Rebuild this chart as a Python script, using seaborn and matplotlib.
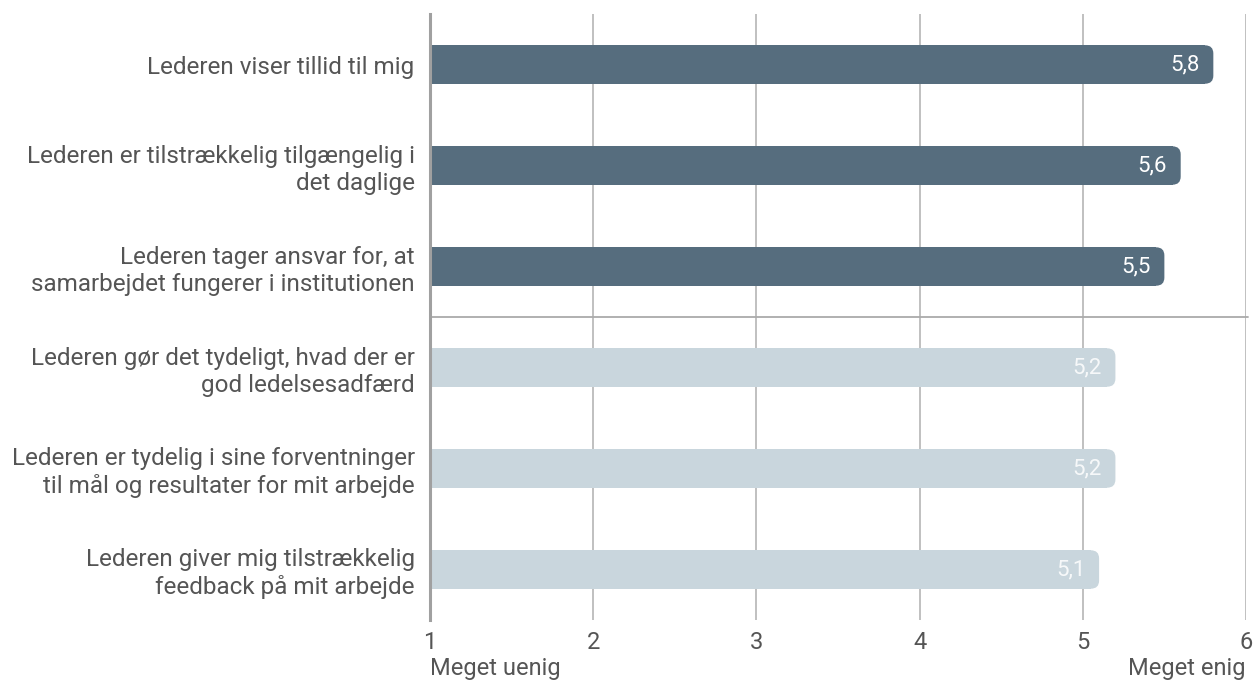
import pandas as pd
import matplotlib.pyplot as plt
import seaborn as sns
from matplotlib.patches import FancyBboxPatch

# data
questions = [
    "Lederen viser tillid til mig",
    "Lederen er tilstrækkelig tilgængelig i\ndet daglige",
    "Lederen tager ansvar for, at\nsamarbejdet fungerer i institutionen",
    "Lederen gør det tydeligt, hvad der er\ngod ledelsesadfærd",
    "Lederen er tydelig i sine forventninger\ntil mål og resultater for mit arbejde",
    "Lederen giver mig tilstrækkelig\nfeedback på mit arbejde",
]
scores = [5.8, 5.6, 5.5, 5.2, 5.2, 5.1]
groups = ["top", "top", "top", "rest", "rest", "rest"]
x_ticks = [1, 2, 3, 4, 5, 6]
x_end_labels = ["Meget uenig", "Meget enig"]

df = pd.DataFrame({"question": questions, "score": scores, "group": groups})

sns.set_theme(style="white")
plt.rcParams["font.family"] = ["Roboto", "DejaVu Sans"]

dark = "#566d7e"
light = "#c9d6dd"
palette = {"top": dark, "rest": light}
text_col = "#555555"

fig = plt.figure(figsize=(12.54, 6.81), dpi=100)
ax = fig.add_axes([0.3429, 0.0896, 0.9936 - 0.3429, 0.9794 - 0.0896])

bar_h = 0.38
r = 0.05  # corner radius in x units
sns.barplot(data=df, y="question", x="score", hue="group", palette=palette,
            dodge=False, legend=False, width=bar_h, orient="h", ax=ax,
            saturation=1, errorbar=None)

ax.set_xlim(1, 6)
ax.set_ylim(5.5, -0.5)

# rounded right ends: shorten the square bars and overlay rounded boxes
aspect = (ax.bbox.width / 5) / (ax.bbox.height / 6)
for patch in list(ax.patches):
    y0 = patch.get_y()
    h = patch.get_height()
    w = patch.get_width()
    color = patch.get_facecolor()
    patch.set_width(w - r)
    patch.set_edgecolor("none")
    rb = FancyBboxPatch((0, y0), w, h,
                        boxstyle=f"round,pad=0,rounding_size={r}",
                        mutation_aspect=aspect, facecolor=color,
                        edgecolor="none", zorder=patch.get_zorder())
    ax.add_patch(rb)

# value labels
for i, v in enumerate(scores):
    alpha = 1.0 if groups[i] == "top" else 0.85
    ax.annotate(f"{v:.1f}".replace(".", ","), xy=(v, i), xytext=(-10, 0),
                textcoords="offset points", ha="right", va="center",
                color="white", alpha=alpha, fontsize=16, zorder=5)

# grid and separator
for xv in x_ticks[1:]:
    ax.axvline(xv, color="#b5b5b5", lw=1.2, zorder=0)
ax.plot([1, 6.01], [2.5, 2.5], color="#aaaaaa", lw=1.3, clip_on=False, zorder=1)

for s in ["top", "right", "bottom"]:
    ax.spines[s].set_visible(False)
ax.spines["left"].set_color("#a0a0a0")
ax.spines["left"].set_linewidth(2.2)
ax.spines["left"].set_zorder(6)

ax.set_xticks(x_ticks)
ax.set_xticklabels([str(t) for t in x_ticks])
ax.tick_params(axis="x", length=0, pad=8, labelsize=17, colors=text_col)
ax.tick_params(axis="y", length=0, pad=11, labelsize=17.5, colors=text_col)
ax.set_xlabel("")
ax.set_ylabel("")

fig.text(0.3429, 6 / 681, x_end_labels[0], ha="left", va="baseline",
         fontsize=17, color=text_col)
fig.text(0.9936, 6 / 681, x_end_labels[1], ha="right", va="baseline",
         fontsize=17, color=text_col)

fig.savefig("out.png", dpi=100)
